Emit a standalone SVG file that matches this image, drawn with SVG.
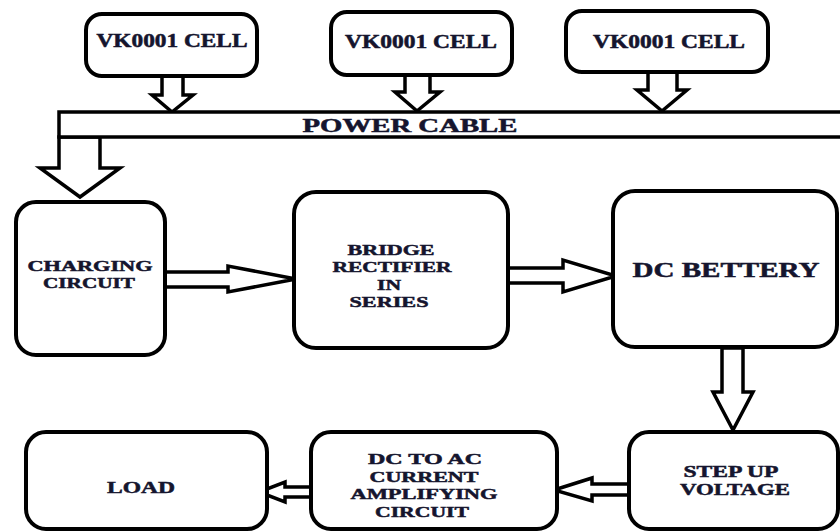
<svg xmlns="http://www.w3.org/2000/svg" width="840" height="531" viewBox="0 0 840 531">
<style>
.box{fill:#fff;stroke:#000;stroke-width:4}
.arr{fill:#fff;stroke:#000;stroke-width:3.5;stroke-linejoin:miter}
.t{font-family:'Liberation Serif','DejaVu Serif',serif;font-weight:700;fill:#15152e;stroke:#15152e;stroke-width:0.5;text-anchor:middle}
</style>
<rect width="840" height="531" fill="#fff"/>
<g id="connectors">
<polygon class="arr" points="162,76 183,76 183,95 193,95 172,112 152,95 162,95"/>
<polygon class="arr" points="405,75 430,75 430,92 440,92 417,111 395,92 405,92"/>
<polygon class="arr" points="648,72 677,72 677,90 687,90 662,111 637,90 648,90"/>
<polygon class="arr" points="59,137 100,137 100,168 120,168 80,197 40,168 59,168"/>
<polygon class="arr" points="165,272 228,272 228,266 296,279 228,292 228,287 165,287"/>
<polygon class="arr" points="508,268 563,268 563,260 616,276 563,292 563,283 508,283"/>
<polygon class="arr" points="722,348 743,348 743,392 753,392 733,430 713,392 722,392"/>
<polygon class="arr" points="629,484 592,484 592,478 554,490 592,501 592,495 629,495"/>
<polygon class="arr" points="311,487 285,487 285,482 259,492 285,502 285,497 311,497"/>
</g>
<g id="cell1"><rect class="box" x="86" y="14" width="171" height="62" rx="16"/><text class="t" x="172" y="47" font-size="18" textLength="151" lengthAdjust="spacingAndGlyphs">VK0001 CELL</text></g>
<g id="cell2"><rect class="box" x="331" y="12" width="181" height="63" rx="16"/><text class="t" x="421" y="48" font-size="18" textLength="152" lengthAdjust="spacingAndGlyphs">VK0001 CELL</text></g>
<g id="cell3"><rect class="box" x="566" y="11" width="202" height="61" rx="16"/><text class="t" x="669" y="48" font-size="18" textLength="152" lengthAdjust="spacingAndGlyphs">VK0001 CELL</text></g>
<g id="power-cable"><rect x="59" y="112" width="800" height="25" fill="#fff" stroke="#000" stroke-width="3.5"/><text class="t" x="410" y="132" font-size="19" textLength="215" lengthAdjust="spacingAndGlyphs">POWER CABLE</text></g>
<g id="charging"><rect class="box" x="16" y="202" width="149" height="153" rx="20"/>
<text class="t" x="90" y="271" font-size="15" textLength="125" lengthAdjust="spacingAndGlyphs">CHARGING</text>
<text class="t" x="89" y="288" font-size="15" textLength="92" lengthAdjust="spacingAndGlyphs">CIRCUIT</text></g>
<g id="bridge"><rect class="box" x="294" y="192" width="214" height="156" rx="22"/>
<text class="t" x="391" y="255" font-size="15" textLength="87" lengthAdjust="spacingAndGlyphs">BRIDGE</text>
<text class="t" x="392" y="272" font-size="15" textLength="119" lengthAdjust="spacingAndGlyphs">RECTIFIER</text>
<text class="t" x="389" y="290" font-size="15" textLength="24" lengthAdjust="spacingAndGlyphs">IN</text>
<text class="t" x="389" y="307" font-size="15" textLength="79" lengthAdjust="spacingAndGlyphs">SERIES</text></g>
<g id="battery"><rect class="box" x="613" y="191" width="224" height="156" rx="22"/>
<text class="t" x="726" y="277" font-size="21" textLength="187" lengthAdjust="spacingAndGlyphs">DC BETTERY</text></g>
<g id="stepup"><rect class="box" x="629" y="432" width="209" height="97" rx="20"/>
<text class="t" x="731" y="477" font-size="16" textLength="95" lengthAdjust="spacingAndGlyphs">STEP UP</text>
<text class="t" x="735" y="495" font-size="16" textLength="110" lengthAdjust="spacingAndGlyphs">VOLTAGE</text></g>
<g id="dcac"><rect class="box" x="311" y="432" width="246" height="97" rx="20"/>
<text class="t" x="425" y="464" font-size="15" textLength="114" lengthAdjust="spacingAndGlyphs">DC TO AC</text>
<text class="t" x="424" y="482" font-size="15" textLength="109" lengthAdjust="spacingAndGlyphs">CURRENT</text>
<text class="t" x="424" y="499" font-size="15" textLength="147" lengthAdjust="spacingAndGlyphs">AMPLIFYING</text>
<text class="t" x="422" y="517" font-size="15" textLength="94" lengthAdjust="spacingAndGlyphs">CIRCUIT</text></g>
<g id="load"><rect class="box" x="26" y="432" width="241" height="97" rx="20"/>
<text class="t" x="141" y="493" font-size="16" textLength="68" lengthAdjust="spacingAndGlyphs">LOAD</text></g>
</svg>
